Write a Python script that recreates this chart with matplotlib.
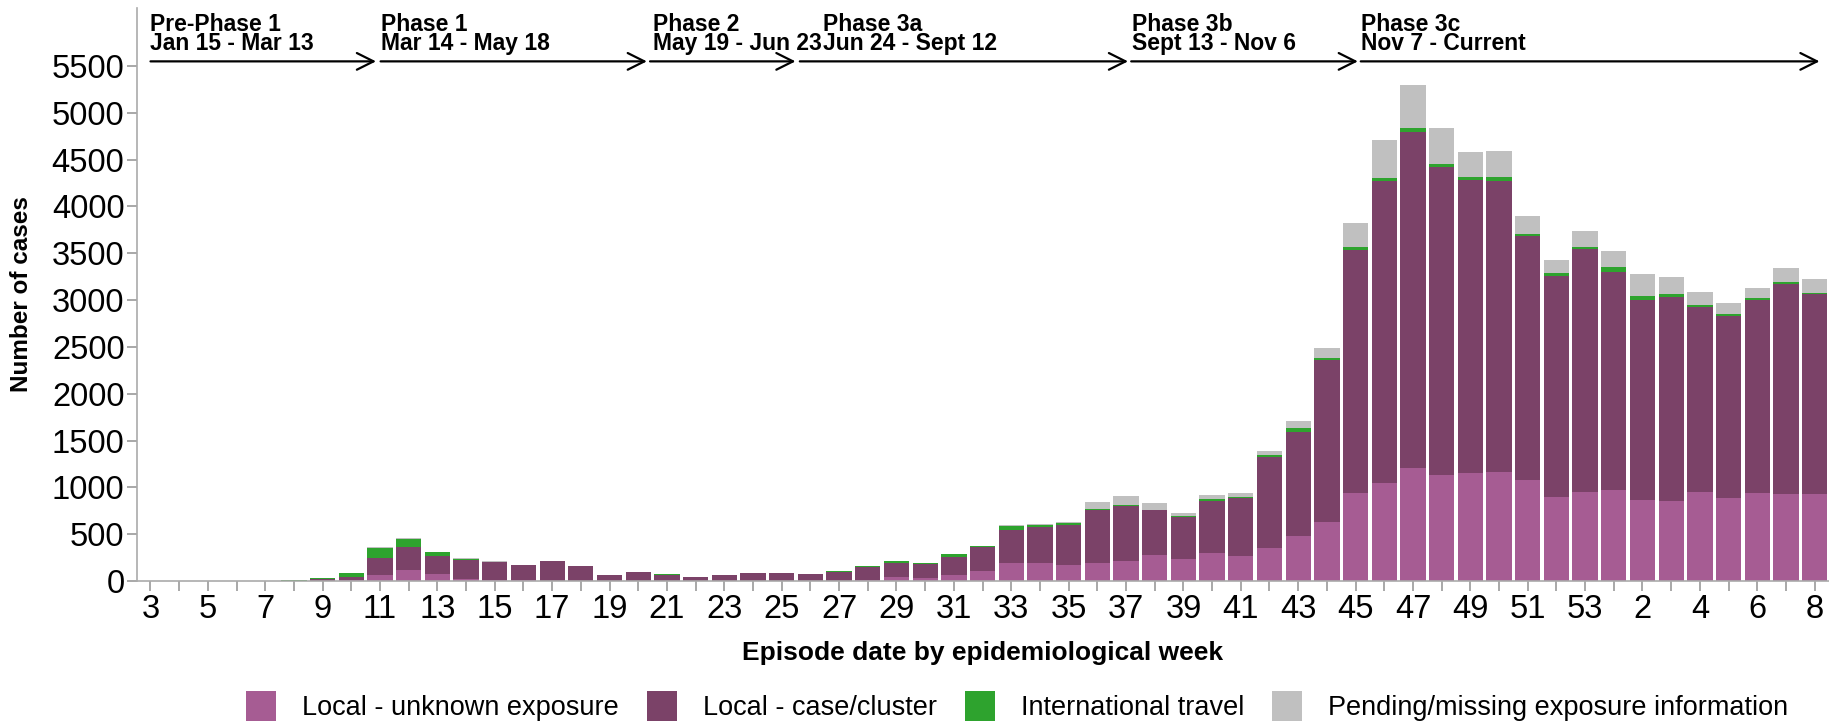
import matplotlib
matplotlib.use("Agg")
import matplotlib.pyplot as plt
import numpy as np

plt.rcParams["font.family"] = ["Liberation Sans", "DejaVu Sans"]

# epidemiological weeks: 3..53 then 1..8 of the next year
weeks = list(range(3, 54)) + list(range(1, 9))

local_unknown = [0, 0, 0, 0, 0, 0,
                 3, 10, 65, 115, 72, 22, 8, 6, 5, 4, 3, 3, 3, 2, 3, 4, 4, 3, 5, 12,
                 47, 32, 65, 108, 190, 197, 172, 197, 215, 275, 237, 296, 262, 355,
                 478, 635, 943, 1045, 1206, 1129, 1151, 1163, 1074, 897, 952,
                 973, 867, 854, 948, 884, 943, 926, 931]
local_cluster = [0, 0, 0, 0, 2, 3,
                 19, 37, 183, 244, 197, 197, 198, 168, 205, 160, 62, 96, 66, 44, 62, 77, 84, 67, 96, 140,
                 147, 151, 190, 251, 359, 385, 427, 564, 582, 478, 448, 560, 622, 969,
                 1117, 1722, 2589, 3227, 3591, 3291, 3130, 3109, 2610, 2360, 2593,
                 2327, 2132, 2174, 1980, 1942, 2056, 2242, 2132]
travel = [1, 0, 3, 1, 2, 4,
          14, 40, 108, 93, 43, 20, 2, 1, 1, 1, 0, 1, 4, 2, 2, 2, 2, 2, 3, 6,
          18, 14, 29, 18, 43, 18, 22, 11, 18, 8, 8, 17, 17, 25,
          34, 25, 34, 34, 38, 38, 34, 42, 25, 30, 25,
          59, 47, 42, 21, 21, 25, 21, 17]
pending = [0, 0, 0, 0, 0, 0,
           0, 0, 3, 2, 2, 2, 1, 1, 1, 0, 0, 0, 0, 0, 0, 0, 0, 0, 0, 0,
           0, 0, 0, 0, 5, 5, 5, 72, 93, 68, 38, 42, 34, 36,
           76, 102, 258, 406, 465, 385, 271, 283, 186, 140, 165,
           161, 233, 182, 135, 123, 102, 156, 148]

series_names = ["Local - unknown exposure", "Local - case/cluster",
                "International travel", "Pending/missing exposure information"]
colors = ["#a65c93", "#7b4268", "#2ea32e", "#c0c0c0"]

# phase annotations (start / end given as bar positions)
phase_names = ["Pre-Phase 1", "Phase 1", "Phase 2", "Phase 3a", "Phase 3b", "Phase 3c"]
phase_dates = ["Jan 15 - Mar 13", "Mar 14 - May 18", "May 19 - Jun 23",
               "Jun 24 - Sept 12", "Sept 13 - Nov 6", "Nov 7 - Current"]
phase_start = [0.0, 8.02, 17.41, 22.63, 34.18, 42.18]
phase_end = [7.86, 17.3, 22.48, 34.07, 42.08, 58.17]
phase_text_x = [0.0, 8.05, 17.5, 23.43, 34.2, 42.2]

fig = plt.figure(figsize=(18.29, 7.24), dpi=100)
ax = fig.add_axes([137 / 1829, 143 / 724, 1692 / 1829, 573 / 724])

x = np.arange(len(weeks))
bottom = np.zeros(len(weeks))
for vals, name, c in zip([local_unknown, local_cluster, travel, pending], series_names, colors):
    ax.bar(x, vals, width=0.88, bottom=bottom, color=c, label=name, linewidth=0)
    bottom += np.array(vals)

ax.set_xlim(-0.47, 58.5)
ax.set_ylim(0, 6120)
ax.set_yticks(np.arange(0, 5501, 500))
ax.set_xticks(x)
ax.set_xticklabels([str(w) if i % 2 == 0 else "" for i, w in enumerate(weeks)])
ax.tick_params(axis="both", labelsize=23.5, colors="#999999", labelcolor="black", length=7, width=1.2, pad=2)

for s in ["top", "right"]:
    ax.spines[s].set_visible(False)
for s in ["left", "bottom"]:
    ax.spines[s].set_color("#aaaaaa")
    ax.spines[s].set_linewidth(1.2)

ax.set_ylabel("Number of cases", fontsize=17.5, fontweight="bold", va="center", ha="center")
ax.yaxis.set_label_coords(-0.068, 0.5)
ax.set_xlabel("Episode date by epidemiological week", fontsize=19, fontweight="bold", va="center")
ax.xaxis.set_label_coords(0.5, -0.126)

# phase arrows + two-line labels
arrow_y = 5550
for name, dates, x0, x1, tx in zip(phase_names, phase_dates, phase_start, phase_end, phase_text_x):
    ax.annotate("", xy=(x1, arrow_y), xytext=(x0, arrow_y),
                arrowprops=dict(arrowstyle="->", lw=1.6, color="black", mutation_scale=30,
                                shrinkA=0, shrinkB=0), annotation_clip=False)
    ax.text(tx, 5615, name + "\n" + dates, fontsize=16.5, fontweight="bold",
            va="bottom", ha="left", linespacing=0.78)

leg_size = 19.5
fpx = leg_size * 100 / 72
fig.legend(loc="center", bbox_to_anchor=(1017 / 1829, 1 - 706 / 724), ncol=4, frameon=False,
           fontsize=leg_size, handlelength=30 / fpx, handleheight=35 / fpx, handletextpad=26 / fpx,
           columnspacing=28 / fpx, borderpad=0, borderaxespad=0)

fig.savefig("out.png", dpi=100)
